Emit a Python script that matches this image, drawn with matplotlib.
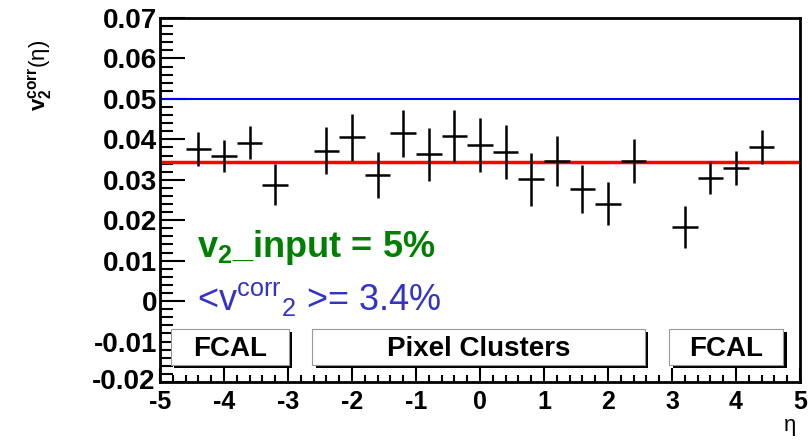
import matplotlib
matplotlib.use("Agg")
import matplotlib.pyplot as plt
from matplotlib.patches import Rectangle
from matplotlib.ticker import MultipleLocator
from matplotlib.transforms import ScaledTranslation
import numpy as np

plt.rcParams['font.family'] = ['Liberation Sans', 'DejaVu Sans']
plt.rcParams['mathtext.fontset'] = 'custom'
plt.rcParams['mathtext.rm'] = 'Liberation Sans'
plt.rcParams['mathtext.bf'] = 'Liberation Sans:bold'
plt.rcParams['mathtext.it'] = 'Liberation Sans:italic'

# data
eta = [-4.4, -4.0, -3.6, -3.2,
       -2.4, -2.0, -1.6, -1.2, -0.8, -0.4, 0.0, 0.4, 0.8, 1.2, 1.6, 2.0, 2.4,
       3.2, 3.6, 4.0, 4.4]
v2corr = [0.0375, 0.0358, 0.0392, 0.0288,
          0.0372, 0.0405, 0.0312, 0.0415, 0.0363, 0.0408, 0.0386, 0.0369,
          0.0301, 0.0346, 0.0277, 0.0241, 0.0347,
          0.0183, 0.0305, 0.0330, 0.0381]
v2err = [0.0042, 0.0040, 0.0040, 0.0051,
         0.0058, 0.0058, 0.0056, 0.0058, 0.0065, 0.0065, 0.0066, 0.0066,
         0.0065, 0.0062, 0.0059, 0.0054, 0.0054,
         0.0052, 0.0039, 0.0042, 0.0041]
bin_half = 0.2
v2_input = 0.05
v2_mean = 0.0344

# detector labels: (x0, x1, text)
regions = [(-4.83, -2.99, "FCAL"), (-2.62, 2.58, "Pixel Clusters"), (2.96, 4.74, "FCAL")]
box_y = (-0.0159, -0.0070)

fig = plt.figure(figsize=(8.12, 4.41), dpi=100)
ax = fig.add_axes([160 / 812, 1 - 382 / 441, 640 / 812, 364 / 441])

ax.axhline(v2_input, color='#0000ff', lw=1.5, zorder=2)
ax.axhline(v2_mean, color='#ff0000', lw=2.5, zorder=2)
ax.errorbar(eta, v2corr, yerr=v2err, xerr=bin_half, fmt='none', ecolor='black',
            elinewidth=1.8, capsize=0, zorder=3)

# boxes with shadow, like ROOT TPaveText
for x0, x1, txt in regions:
    w = x1 - x0
    h = box_y[1] - box_y[0]
    ax.add_patch(Rectangle((x0 + 0.05, box_y[0] - 0.0006), w, h, facecolor='black',
                           edgecolor='none', zorder=4))
    ax.add_patch(Rectangle((x0, box_y[0]), w, h, facecolor='white',
                           edgecolor='#999999', lw=0.8, zorder=5))
    ax.text((x0 + x1) / 2, box_y[0] + h / 2 - 0.0004, txt, ha='center', va='center',
            fontsize=20, fontweight='bold', zorder=6)

ax.text(-4.42, 0.0133, r'v$_\mathbf{2}$_input = 5%', color='#008000', fontsize=26,
        fontweight='bold', ha='left', va='center')
ax.text(-4.42, 0.0004, r'<v$^{\rm corr}{}_{\rm 2}$ >= 3.4%', color='#3333cc', fontsize=26,
        ha='left', va='center')

ax.set_xlim(-5, 5)
ax.set_ylim(-0.02, 0.07)
ax.xaxis.set_major_locator(MultipleLocator(1))
ax.xaxis.set_minor_locator(MultipleLocator(0.2))
ax.yaxis.set_major_locator(MultipleLocator(0.01))
ax.yaxis.set_minor_locator(MultipleLocator(0.002))
ax.tick_params(which='both', direction='in', top=False, right=False, width=1.5)
ax.tick_params(axis='x', which='major', length=10, labelsize=18, pad=6)
ax.tick_params(axis='x', which='minor', length=5)
ax.tick_params(axis='y', which='major', length=18, labelsize=20, pad=2)
ax.tick_params(axis='y', which='minor', length=9)
ax.set_yticks(np.arange(-0.02, 0.0701, 0.01))
ax.set_yticklabels(['-0.02', '-0.01', '0', '0.01', '0.02', '0.03', '0.04', '0.05', '0.06', '0.07'])
ax.set_xticklabels([str(int(v)) for v in ax.get_xticks()])
for lab in ax.get_xticklabels() + ax.get_yticklabels():
    lab.set_fontweight('bold')
for s in ax.spines.values():
    s.set_linewidth(2)

# nudge the corner labels apart a little (they touch in the original)
xl0 = ax.get_xticklabels()[0]
xl0.set_transform(xl0.get_transform() + ScaledTranslation(4 / 100, 0, fig.dpi_scale_trans))
yl0 = ax.get_yticklabels()[0]
yl0.set_transform(yl0.get_transform() + ScaledTranslation(-2 / 100, 3 / 100, fig.dpi_scale_trans))

fig.text(40 / 812, 1 - 75 / 441, r'$\mathbf{v}_\mathbf{2}^\mathbf{corr}$(η)', rotation=90,
         ha='center', va='center', fontsize=16)
fig.text(790 / 812, 1 - 425 / 441, 'η', ha='center', va='center', fontsize=16)

fig.savefig('out.png', dpi=100)
